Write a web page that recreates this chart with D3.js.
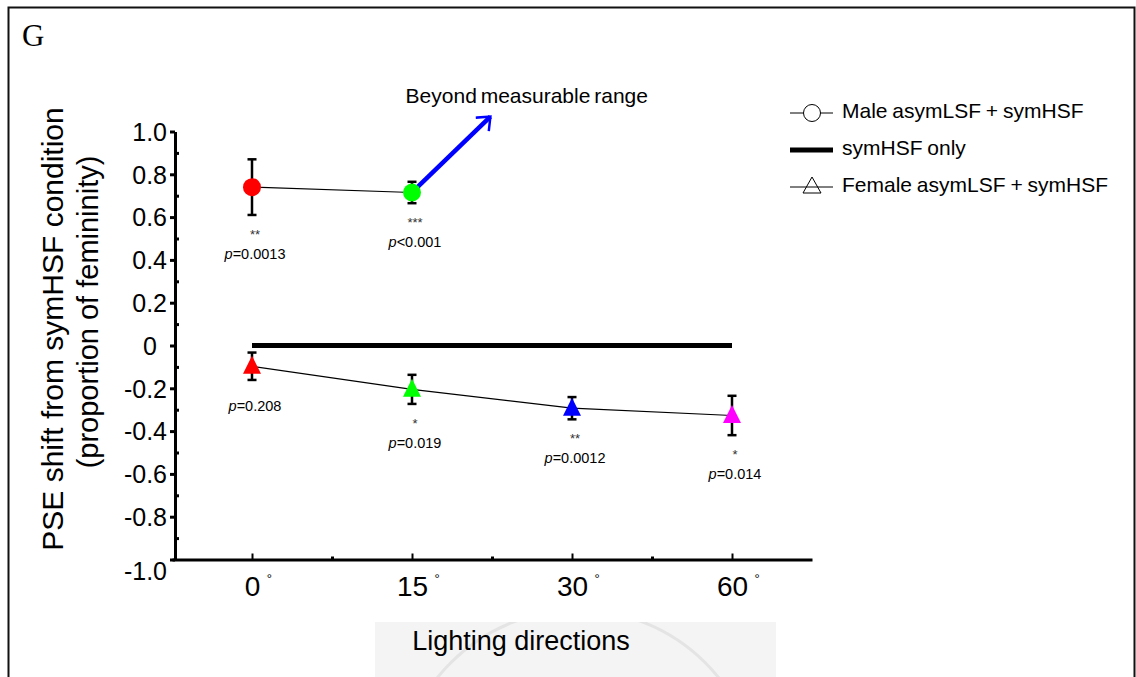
<!DOCTYPE html>
<html>
<head>
<meta charset="utf-8">
<script src="https://cdn.jsdelivr.net/npm/d3@7"></script>
<style>
  body { margin: 0; background: #fff; }
  svg { display: block; }
</style>
</head>
<body>
<script>
// ---- data ----
var angles = ["0", "15", "30", "60"];
var pointColors = ["#ff0000", "#00ff00", "#0000ff", "#ff00ff"];

// male asymLSF + symHSF (only 0 and 15 deg measurable)
var maleMean = [0.74, 0.715];
var maleErr = [0.13, 0.05];
var maleStars = ["**", "***"];
var maleP = ["=0.0013", "<0.001"];

// female asymLSF + symHSF
var femaleMean = [-0.097, -0.205, -0.293, -0.327];
var femaleErr = [0.064, 0.068, 0.052, 0.092];
var femaleStars = ["", "*", "**", "*"];
var femaleP = ["=0.208", "=0.019", "=0.0012", "=0.014"];

// symHSF only baseline
var baseline = [0, 0, 0, 0];

var yMajor = [-1, -0.8, -0.6, -0.4, -0.2, 0, 0.2, 0.4, 0.6, 0.8, 1.0];
var yMinor = [-0.9, -0.7, -0.5, -0.3, -0.1, 0.1, 0.3, 0.5, 0.7, 0.9];
var xMinor = [0.5, 1.5, 2.5];

var legendLabels = ["Male asymLSF + symHSF", "symHSF only", "Female asymLSF + symHSF"];

var FONT = "'Liberation Sans', Arial, Helvetica, sans-serif";

var width = 1136, height = 677;
var svg = d3.select("body").append("svg")
    .attr("width", width)
    .attr("height", height)
    .style("font-family", FONT);

var x = d3.scaleLinear().domain([-0.5, 3.5]).range([172, 812]);
var y = d3.scaleLinear().domain([-1, 1]).range([559.5, 131.5]);

// frame of the panel
svg.append("path")
    .attr("d", "M8.5,677 L8.5,7.5 L1134.5,7.5 L1134.5,677")
    .attr("fill", "none")
    .attr("stroke", "#111")
    .attr("stroke-width", 2);

svg.append("text")
    .attr("x", 22).attr("y", 46)
    .style("font-family", "'Liberation Serif', 'Times New Roman', serif")
    .style("font-size", "31px")
    .text("G");

// grey patch behind the x title (scan background)
var clip = svg.append("clipPath").attr("id", "patch");
clip.append("rect").attr("x", 375).attr("y", 622).attr("width", 401).attr("height", 55);
svg.append("rect").attr("x", 375).attr("y", 622).attr("width", 401).attr("height", 55)
    .attr("fill", "#f4f4f4");
svg.append("circle").attr("cx", 578).attr("cy", 790).attr("r", 180)
    .attr("clip-path", "url(#patch)")
    .attr("fill", "none").attr("stroke", "#e4e4e4").attr("stroke-width", 3);

// ---- axes ----
// hyphen minus like the original figure
var yFmt = function(d) { return d === 0 ? "0" : d3.format(".1f")(d).replace("\u2212", "-"); };

var yAxis = svg.append("g")
    .attr("transform", "translate(175,0)")
    .call(d3.axisLeft(y).tickValues(yMajor).tickSize(5).tickSizeOuter(0).tickPadding(3)
      .tickFormat(yFmt));
yAxis.select(".domain").attr("stroke-width", 3);
yAxis.selectAll(".tick line").attr("stroke-width", 3);
yAxis.selectAll(".tick text")
    .style("font-size", "25px")
    .style("font-family", FONT)
    .attr("fill", "#000")
    .attr("x", function(d) { return d === 0 ? -18 : -8; })
    .attr("dy", function(d) { return d === -1 ? "0.78em" : "0.35em"; });

var yMin = svg.append("g")
    .attr("transform", "translate(175,0)")
    .call(d3.axisRight(y).tickValues(yMinor).tickSize(4).tickFormat(""));
yMin.select(".domain").remove();
yMin.selectAll(".tick line").attr("stroke-width", 3);

var xAxis = svg.append("g")
    .attr("transform", "translate(0,559.5)")
    .call(d3.axisBottom(x).tickValues([0, 1, 2, 3]).tickSize(-6).tickSizeOuter(0).tickPadding(17)
      .tickFormat(function(d) { return angles[d]; }));
xAxis.select(".domain").attr("stroke-width", 3);
xAxis.selectAll(".tick line").attr("stroke-width", 2);
xAxis.selectAll(".tick text")
    .style("font-size", "28px")
    .style("font-family", FONT)
    .attr("fill", "#000");
xAxis.selectAll(".tick").each(function() {
  var t = d3.select(this).select("text");
  var len = t.node().getComputedTextLength();
  d3.select(this).append("text")
      .attr("x", len / 2 + 9)
      .attr("y", 23)
      .attr("text-anchor", "middle")
      .attr("fill", "#000")
      .style("font-size", "13px")
      .style("font-family", FONT)
      .text("\u00b0");
});

var xMin = svg.append("g")
    .attr("transform", "translate(0,559.5)")
    .call(d3.axisBottom(x).tickValues(xMinor).tickSize(-3).tickFormat(""));
xMin.select(".domain").remove();
xMin.selectAll(".tick line").attr("stroke-width", 3);

// axis titles
svg.append("text")
    .attr("transform", "translate(63,329) rotate(-90)")
    .attr("text-anchor", "middle")
    .style("font-size", "30px")
    .text("PSE shift from symHSF condition");
svg.append("text")
    .attr("transform", "translate(98,312) rotate(-90)")
    .attr("text-anchor", "middle")
    .style("font-size", "29px")
    .text("(proportion of femininity)");

svg.append("text")
    .attr("x", 521).attr("y", 650)
    .attr("text-anchor", "middle")
    .style("font-size", "27px")
    .text("Lighting directions");

// ---- symHSF only baseline ----
var line = d3.line()
    .x(function(d, i) { return x(i); })
    .y(function(d) { return y(d); });

svg.append("path")
    .datum(baseline)
    .attr("d", line)
    .attr("fill", "none")
    .attr("stroke", "#000")
    .attr("stroke-width", 5);

// ---- error bars ----
function errorBars(means, errs) {
  var g = svg.append("g");
  means.forEach(function(m, i) {
    var cx = x(i), top = y(m + errs[i]), bot = y(m - errs[i]);
    g.append("line").attr("x1", cx).attr("x2", cx).attr("y1", top).attr("y2", bot)
        .attr("stroke", "#000").attr("stroke-width", 2.5);
    [top, bot].forEach(function(v) {
      g.append("line").attr("x1", cx - 4.5).attr("x2", cx + 4.5).attr("y1", v).attr("y2", v)
          .attr("stroke", "#000").attr("stroke-width", 2.5);
    });
  });
}
errorBars(maleMean, maleErr);
errorBars(femaleMean, femaleErr);

// connecting lines
svg.append("path").datum(maleMean).attr("d", line)
    .attr("fill", "none").attr("stroke", "#000").attr("stroke-width", 1.2);
svg.append("path").datum(femaleMean).attr("d", line)
    .attr("fill", "none").attr("stroke", "#000").attr("stroke-width", 1.2);

// blue arrow: male 15 deg beyond measurable range
svg.append("defs").append("marker")
    .attr("id", "head")
    .attr("viewBox", "-6 -6 12 12")
    .attr("refX", 0).attr("refY", 0)
    .attr("markerWidth", 6).attr("markerHeight", 6)
    .attr("markerUnits", "strokeWidth")
    .attr("orient", "auto")
    .append("path")
    .attr("d", "M-4.6,-3.8 L0,0 L-4.6,3.8")
    .attr("fill", "none")
    .attr("stroke", "#0000ff")
    .attr("stroke-width", 1.1)
    .attr("stroke-linecap", "square");

svg.append("line")
    .attr("x1", x(1)).attr("y1", y(maleMean[1]))
    .attr("x2", x(1.49)).attr("y2", y(1.07))
    .attr("stroke", "#0000ff")
    .attr("stroke-width", 4.5)
    .attr("marker-end", "url(#head)");

svg.append("text")
    .attr("x", x(0.96)).attr("y", y(1.135))
    .style("font-size", "21px")
    .style("word-spacing", "-2px")
    .text("Beyond measurable range");

// markers
function triPath(w, up, down) {
  return "M0," + (-up) + " L" + (w / 2) + "," + down + " L" + (-w / 2) + "," + down + " Z";
}

svg.append("g").selectAll("circle")
    .data(maleMean)
    .enter().append("circle")
    .attr("cx", function(d, i) { return x(i); })
    .attr("cy", function(d) { return y(d); })
    .attr("r", 9)
    .attr("fill", function(d, i) { return pointColors[i]; });

svg.append("g").selectAll("path")
    .data(femaleMean)
    .enter().append("path")
    .attr("transform", function(d, i) { return "translate(" + x(i) + "," + y(d) + ")"; })
    .attr("d", triPath(18, 10.5, 7.5))
    .attr("fill", function(d, i) { return pointColors[i]; });

// significance notes
function notes(means, errs, stars, pv) {
  means.forEach(function(m, i) {
    var bot = y(m - errs[i]);
    var cx = x(i) + 3;
    var pY = bot + 44;
    if (stars[i]) {
      svg.append("text")
          .attr("x", cx).attr("y", bot + 24)
          .attr("text-anchor", "middle")
          .attr("fill", "#333")
          .style("font-size", "13px")
          .text(stars[i]);
    } else {
      pY = bot + 31;
    }
    var t = svg.append("text")
        .attr("x", cx).attr("y", pY)
        .attr("text-anchor", "middle")
        .style("font-size", "14.5px");
    t.append("tspan").style("font-style", "italic").text("p");
    t.append("tspan").text(pv[i]);
  });
}
notes(maleMean, maleErr, maleStars, maleP);
notes(femaleMean, femaleErr, femaleStars, femaleP);

// ---- legend ----
var legendY = [113, 150, 187];
var lg = svg.append("g");
legendLabels.forEach(function(lab, i) {
  var ly = legendY[i];
  lg.append("line").attr("x1", 790).attr("x2", 833).attr("y1", ly).attr("y2", ly)
      .attr("stroke", "#000").attr("stroke-width", i === 1 ? 5 : 1);
  if (i === 0) {
    lg.append("circle").attr("cx", 812).attr("cy", ly).attr("r", 8.5)
        .attr("fill", "#fff").attr("stroke", "#000").attr("stroke-width", 1);
  }
  if (i === 2) {
    lg.append("path").attr("transform", "translate(812," + ly + ")")
        .attr("d", triPath(18, 10, 6))
        .attr("fill", "none").attr("stroke", "#000").attr("stroke-width", 1);
  }
  lg.append("text").attr("x", 842).attr("y", ly + 5)
      .style("font-size", "21px")
      .style("word-spacing", "-1px")
      .text(lab);
});
</script>
</body>
</html>
